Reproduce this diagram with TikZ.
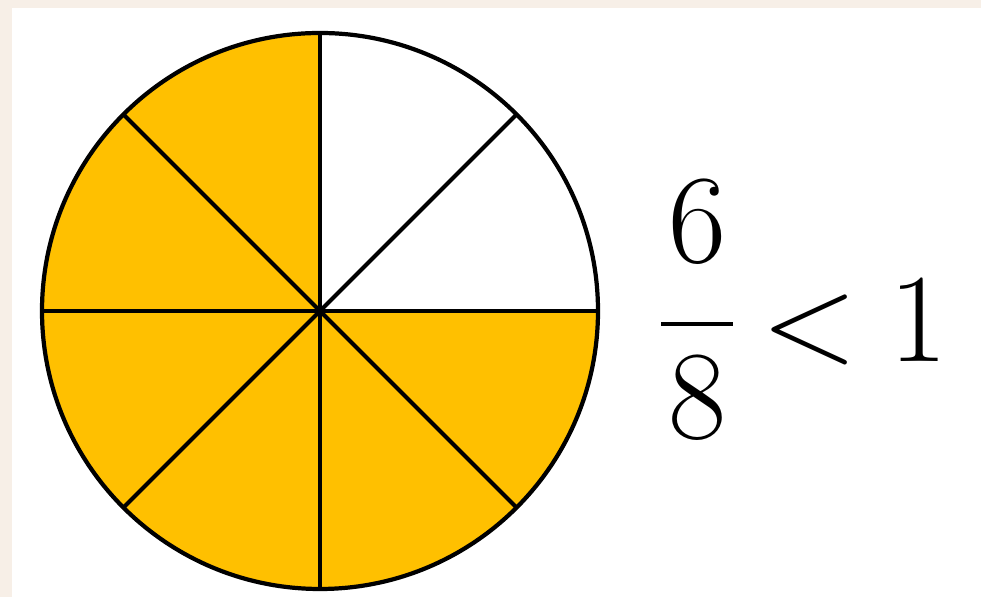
\RequirePackage{fix-cm}
\documentclass[tikz,border=0pt]{standalone}
\usepackage{amsmath}
\usepackage{tikz}
\usetikzlibrary{calc,positioning}
\definecolor{gold}{HTML}{FFC000}
\definecolor{paper}{HTML}{F7EFE7}

\begin{document}
\begin{tikzpicture}[x=0.02cm,y=0.02cm,line width=2.4pt]
\fill[paper] (0,0) rectangle (981,597);
\fill[white] (12,0) rectangle (981,589);
\useasboundingbox (0,0) rectangle (981,597);
\coordinate (O) at (320,286);
\fill[gold] (O) -- ++(90:278) arc (90:360:278) -- cycle;
\foreach \a in {0,45,90,135} {
  \draw (O) -- ++(\a:278);
  \draw (O) -- ++(\a+180:278);
}
\draw (O) circle (278);
\fill (O) circle (3pt);
\node[anchor=base west,inner sep=0pt,font=\fontsize{72}{86}\selectfont] (frac) at (657,235)
  {$\raisebox{3.5pt}{$\genfrac{}{}{2.6pt}{0}{\kern4pt\raisebox{4.5pt}{$6$}\kern4pt}{\kern4pt\raisebox{2.2pt}{$8$}\kern4pt}$}\mkern3.7mu{<}\mkern4.5mu1$};
\end{tikzpicture}
\end{document}
